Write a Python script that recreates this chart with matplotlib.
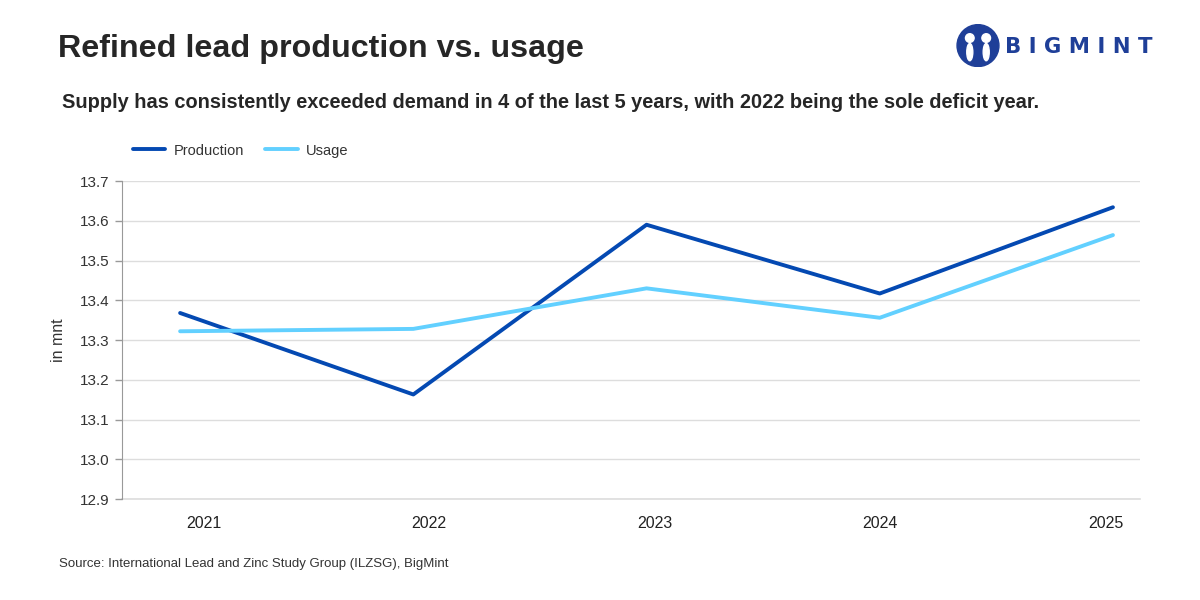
import numpy as np
from matplotlib import pyplot as plt
from matplotlib.patches import Circle, Ellipse

# dane z wykresu (mln ton)
years = ["2021", "2022", "2023", "2024", "2025"]
production = [13.368, 13.163, 13.590, 13.417, 13.634]
usage = [13.322, 13.328, 13.430, 13.356, 13.564]
yticks = [12.9, 13.0, 13.1, 13.2, 13.3, 13.4, 13.5, 13.6, 13.7]

plt.rcParams['font.family'] = ['Liberation Sans', 'DejaVu Sans']

fig = plt.figure(figsize=(12, 6), dpi=100)
ax = fig.add_axes([0.1017, 0.1683, 0.8483, 0.53])

x = np.arange(len(years))
ax.plot(x, production, color="#0449B2", lw=2.8, label="Production", solid_capstyle="round")
ax.plot(x, usage, color="#62D0FF", lw=2.8, label="Usage", solid_capstyle="round")

ax.set_xlim(-0.249, 4.116)
ax.set_ylim(12.9, 13.7)
ax.set_yticks(yticks)
ax.set_yticklabels([f"{t:.1f}" for t in yticks], fontsize=11, color="#333333")
# etykiety lat lekko przesunięte jak w oryginale
ax.set_xticks(np.linspace(0.1, 3.97, len(years)))
ax.set_xticklabels(years, fontsize=11.5, color="#222222")
ax.tick_params(axis="x", length=0, pad=12)
ax.tick_params(axis="y", length=5, width=1, color="#999999", pad=4)

ax.grid(axis="y", color="#dddddd", lw=1)
ax.axhline(yticks[0], color="#dddddd", lw=1.2, zorder=0, clip_on=False)
ax.set_axisbelow(True)
for s in ["top", "right", "bottom"]:
    ax.spines[s].set_visible(False)
ax.spines["left"].set_color("#999999")
ax.set_ylabel("in mnt", fontsize=11.5, color="#333333", labelpad=10)

fig.legend(loc="center left", bbox_to_anchor=(0.1, 0.749), ncol=2, frameon=False,
           fontsize=10.5, handlelength=2.2, columnspacing=1.45, handletextpad=0.6,
           labelcolor="#333333")

# tytuły
fig.text(0.048, 0.918, "Refined lead production vs. usage", fontsize=23.2, fontweight="bold",
         color="#262626", va="center")
fig.text(0.052, 0.830, "Supply has consistently exceeded demand in 4 of the last 5 years, "
         "with 2022 being the sole deficit year.", fontsize=14.4, fontweight="bold",
         color="#262626", va="center")
fig.text(0.049, 0.06, "Source: International Lead and Zinc Study Group (ILZSG), BigMint",
         fontsize=9.5, color="#333333", va="center")

# logo
blue = "#1F3F98"
fig.text(0.8375, 0.921, "B I G M I N T", fontsize=15.3, fontweight="bold", color=blue,
         va="center", family="DejaVu Sans")
lax = fig.add_axes([0.797, 0.888, 0.036, 0.072])
lax.set_xlim(-1, 1)
lax.set_ylim(-1, 1)
lax.set_aspect("equal")
lax.axis("off")
lax.add_patch(Circle((0, 0), 0.97, color=blue))
lax.add_patch(Circle((-0.38, 0.35), 0.2, color="white"))
lax.add_patch(Circle((0.38, 0.35), 0.2, color="white"))
lax.add_patch(Ellipse((-0.38, -0.3), 0.28, 0.8, color="white"))
lax.add_patch(Ellipse((0.38, -0.3), 0.28, 0.8, color="white"))

fig.savefig("out.png", dpi=100, facecolor="white")
